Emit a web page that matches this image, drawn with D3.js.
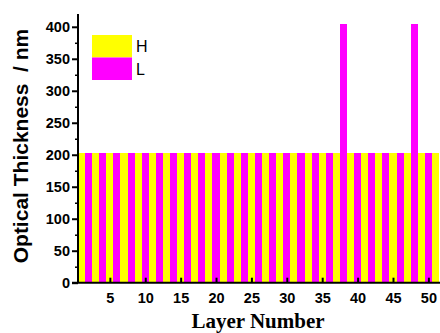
<!DOCTYPE html>
<html>
<head>
<meta charset="utf-8">
<script src="https://cdn.jsdelivr.net/npm/d3@7.9.0/dist/d3.min.js"></script>
<style>
  body { margin: 0; background: #fff; }
  svg { display: block; }
</style>
</head>
<body>
<div id="chart"></div>
<script>
// layer types, in order from layer 1
const layerTypes = [
  'H','L','H','L','H','L','H','L','H','L',
  'H','L','H','L','H','L','H','L','H','L',
  'H','L','H','L','H','L','H','L','H','L',
  'H','L','H','L','H','L','H','L','H','L',
  'H','L','H','L','H','L','H','L','H','L',
  'H'
];
// optical thickness (nm) per layer
const thickness = [
  202.5,202.5,202.5,202.5,202.5,202.5,202.5,202.5,202.5,202.5,
  202.5,202.5,202.5,202.5,202.5,202.5,202.5,202.5,202.5,202.5,
  202.5,202.5,202.5,202.5,202.5,202.5,202.5,202.5,202.5,202.5,
  202.5,202.5,202.5,202.5,202.5,202.5,202.5,405,202.5,202.5,
  202.5,202.5,202.5,202.5,202.5,202.5,202.5,405,202.5,202.5,
  202.5
];
const xTicks = [5, 10, 15, 20, 25, 30, 35, 40, 45, 50];
const yTicks = [0, 50, 100, 150, 200, 250, 300, 350, 400];
const legendItems = ['H', 'L'];
const colors = { H: '#ffff00', L: '#ff00ff' };

const data = thickness.map((v, i) => ({ layer: i + 1, type: layerTypes[i], value: v }));

const width = 440, height = 333;
const svg = d3.select('#chart').append('svg')
  .attr('width', width).attr('height', height);

const x = d3.scaleLinear().domain([0.5, 51.5]).range([78, 439]);
const y = d3.scaleLinear().domain([0, 420]).range([282.7, 14]);

// bars
svg.append('g')
  .selectAll('rect')
  .data(data)
  .join('rect')
  .attr('x', d => x(d.layer - 0.5))
  .attr('width', d => x(d.layer + 0.5) - x(d.layer - 0.5))
  .attr('y', d => y(d.value))
  .attr('height', d => y(0) - y(d.value))
  .attr('fill', d => colors[d.type])
  .attr('shape-rendering', 'crispEdges');

// y axis
const yAxis = svg.append('g')
  .attr('transform', `translate(${x(0.5)},0)`)
  .call(d3.axisLeft(y).tickValues(yTicks).tickSize(6).tickPadding(2).tickSizeOuter(0));
yAxis.select('.domain').attr('stroke', '#000').attr('stroke-width', 2).attr('d', `M0,${y(0)}V${y(420)}`);
yAxis.selectAll('.tick line').attr('stroke', '#000').attr('stroke-width', 2);
yAxis.selectAll('.tick text')
  .attr('font-family', 'Liberation Sans, Arial, sans-serif')
  .attr('font-weight', 'bold').attr('font-size', 14.5).attr('fill', '#000');
// minor y ticks
svg.append('g')
  .attr('transform', `translate(${x(0.5)},0)`)
  .call(d3.axisLeft(y).tickValues(d3.range(25, 420, 50)).tickSize(3).tickFormat(''))
  .call(g => g.select('.domain').remove())
  .selectAll('.tick line').attr('stroke', '#000').attr('stroke-width', 1.5);

// x axis
const xAxis = svg.append('g')
  .attr('transform', `translate(0,${y(0)})`)
  .call(d3.axisBottom(x).tickValues(xTicks).tickSize(0).tickPadding(10).tickSizeOuter(0));
xAxis.select('.domain').attr('stroke', '#000').attr('stroke-width', 2).attr('d', `M72,0H440`);
xAxis.selectAll('.tick text')
  .attr('font-family', 'Liberation Sans, Arial, sans-serif')
  .attr('font-weight', 'bold').attr('font-size', 14.5).attr('fill', '#000');
// inward x ticks
svg.append('g')
  .attr('transform', `translate(0,${y(0)})`)
  .call(d3.axisTop(x).tickValues(xTicks).tickSize(5).tickFormat(''))
  .call(g => g.select('.domain').remove())
  .selectAll('.tick line').attr('stroke', '#000').attr('stroke-width', 2);

// axis titles
svg.append('text')
  .attr('x', 258).attr('y', 328)
  .attr('text-anchor', 'middle')
  .attr('font-family', 'Liberation Serif, Times New Roman, serif')
  .attr('font-weight', 'bold').attr('font-size', 21)
  .text('Layer Number');

svg.append('text')
  .attr('transform', 'translate(28,146) rotate(-90)')
  .attr('text-anchor', 'middle')
  .attr('font-family', 'Liberation Sans, Arial, sans-serif')
  .attr('font-weight', 'bold').attr('font-size', 21)
  .attr('xml:space', 'preserve')
  .text('Optical Thickness  / nm');

// legend
const legend = svg.append('g').attr('transform', 'translate(92,35)');
legendItems.forEach((k, i) => {
  legend.append('rect')
    .attr('x', 0).attr('y', i * 22.5)
    .attr('width', 40).attr('height', 22.5)
    .attr('fill', colors[k]);
  legend.append('text')
    .attr('x', 44).attr('y', i * 22.5 + 17)
    .attr('font-family', 'Liberation Sans, Arial, sans-serif')
    .attr('font-size', 16)
    .text(k);
});
</script>
</body>
</html>
